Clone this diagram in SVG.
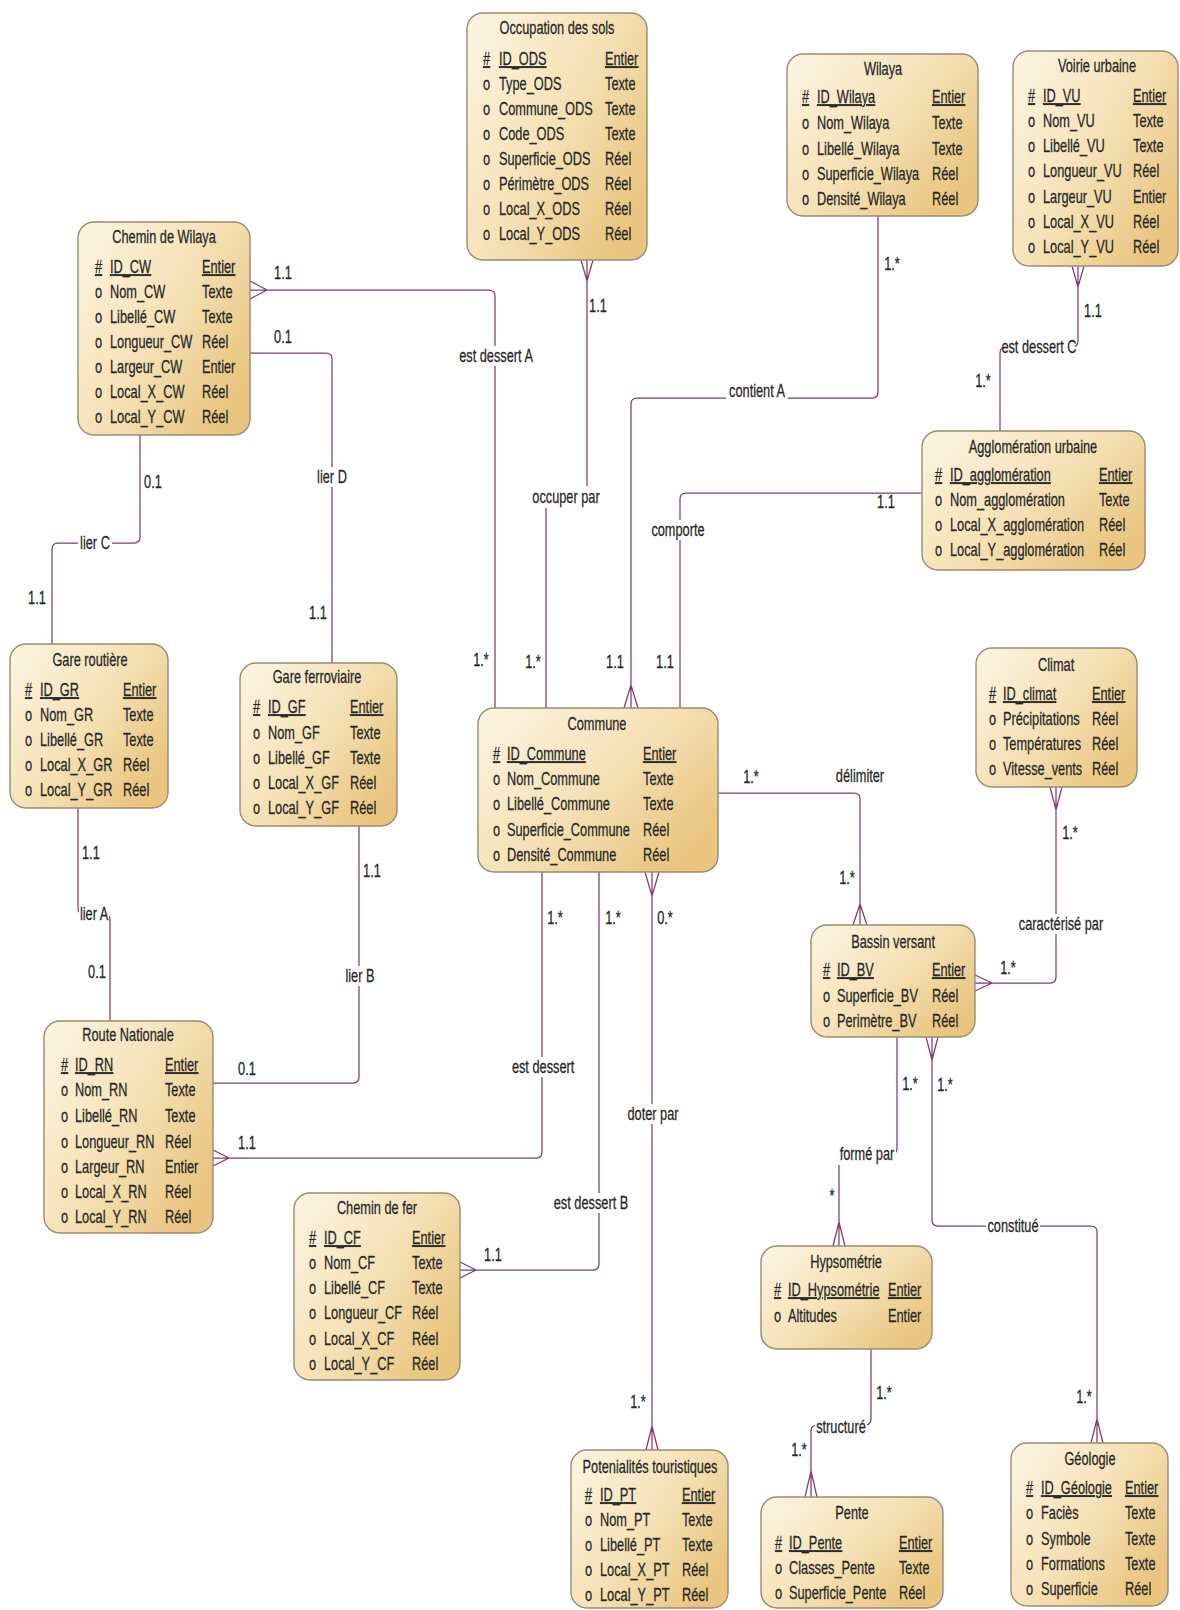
<svg xmlns="http://www.w3.org/2000/svg" width="1180" height="1610" viewBox="0 0 1180 1610">
<defs>
<linearGradient id="g" x1="0" y1="0" x2="1" y2="0.7">
<stop offset="0" stop-color="#fcf5e3"/>
<stop offset="0.55" stop-color="#f5e1b6"/>
<stop offset="1" stop-color="#e9c57f"/>
</linearGradient>
<style>
.box{fill:url(#g);stroke:#9a8c70;stroke-width:1.4}
.t{font-family:"Liberation Sans",Arial,sans-serif;font-size:18px;fill:#262626;stroke:#262626;stroke-width:0.25;transform-box:fill-box;transform-origin:0 50%;transform:scaleX(.71)}
.c{text-anchor:middle;transform-origin:50% 50%}
.u{text-decoration:underline}
.ln{fill:none;stroke:#843a6f;stroke-width:1.25}
.bg{fill:#ffffff}
</style>
</defs>
<rect width="1180" height="1610" fill="#ffffff"/>

<g id="connectors">
<!-- est dessert A -->
<path class="ln" d="M250,290 H489 Q495,290 495,296 V708 M250,281 L267,290 L250,299"/>
<!-- lier D -->
<path class="ln" d="M250,353 H326 Q332,353 332,359 V663"/>
<!-- lier C -->
<path class="ln" d="M140,435 V537 Q140,543 134,543 H58 Q52,543 52,549 V644"/>
<!-- lier A -->
<path class="ln" d="M78,808 V908 Q78,914 84,914 H104 Q110,914 110,920 V1021"/>
<!-- lier B -->
<path class="ln" d="M359,826 V1077 Q359,1083 353,1083 H213"/>
<!-- est dessert -->
<path class="ln" d="M213,1158 H536 Q542,1158 542,1152 V872 M213,1150 L229,1158 L213,1166"/>
<!-- est dessert B -->
<path class="ln" d="M599,872 V1264 Q599,1270 593,1270 H460 M460,1262 L476,1270 L460,1278"/>
<!-- doter par -->
<path class="ln" d="M652,872 V1450 M645,872 L652,896 L659,872 M646,1450 L652,1426 L658,1450"/>
<!-- occuper par -->
<path class="ln" d="M587,260 V491 Q587,497 581,497 H552 Q546,497 546,503 V708 M581,260 L587,281 L593,260"/>
<!-- contient A -->
<path class="ln" d="M878,216 V392 Q878,398 872,398 H637 Q631,398 631,404 V708 M624,708 L631,685 L638,708"/>
<!-- est dessert C -->
<path class="ln" d="M1078,266 V341 Q1078,347 1072,347 H1006 Q1000,347 1000,353 V431 M1072,266 L1078,287 L1084,266"/>
<!-- comporte -->
<path class="ln" d="M922,493 H686 Q680,493 680,499 V708"/>
<!-- délimiter -->
<path class="ln" d="M718,793 H854 Q860,793 860,799 V925 M853,925 L860,904 L867,925"/>
<!-- caractérisé par -->
<path class="ln" d="M1056,787 V977 Q1056,983 1050,983 H975 M1050,787 L1056,810 L1062,787 M975,975 L992,983 L975,991"/>
<!-- formé par -->
<path class="ln" d="M897,1037 V1148 Q897,1154 891,1154 H845 Q839,1154 839,1160 V1246 M833,1246 L839,1222 L845,1246"/>
<!-- constitué -->
<path class="ln" d="M932,1037 V1220 Q932,1226 938,1226 H1091 Q1097,1226 1097,1232 V1443 M926,1037 L932,1060 L938,1037 M1091,1443 L1097,1419 L1103,1443"/>
<!-- structuré -->
<path class="ln" d="M871,1349 V1419 Q871,1425 865,1425 H817 Q811,1425 811,1431 V1497 M805,1497 L811,1471 L817,1497"/>

<!-- label backgrounds -->
<rect class="bg" x="457" y="346" width="78" height="20"/>
<rect class="bg" x="315" y="467" width="34" height="20"/>
<rect class="bg" x="78" y="533" width="34" height="20"/>
<rect class="bg" x="79" y="904" width="30" height="20"/>
<rect class="bg" x="343" y="966" width="34" height="20"/>
<rect class="bg" x="510" y="1057" width="66" height="20"/>
<rect class="bg" x="552" y="1193" width="78" height="20"/>
<rect class="bg" x="626" y="1104" width="54" height="20"/>
<rect class="bg" x="531" y="486" width="70" height="22"/>
<rect class="bg" x="726" y="381" width="62" height="20"/>
<rect class="bg" x="1003" y="337" width="72" height="20"/>
<rect class="bg" x="650" y="520" width="56" height="20"/>
<rect class="bg" x="1017" y="914" width="88" height="20"/>
<rect class="bg" x="838" y="1143" width="58" height="22"/>
<rect class="bg" x="986" y="1216" width="54" height="20"/>
<rect class="bg" x="815" y="1417" width="52" height="20"/>

<!-- association labels -->
<text class="t c" x="496" y="362">est dessert A</text>
<text class="t c" x="332" y="483">lier D</text>
<text class="t c" x="95" y="549">lier C</text>
<text class="t c" x="94" y="920">lier A</text>
<text class="t c" x="360" y="982">lier B</text>
<text class="t c" x="543" y="1073">est dessert</text>
<text class="t c" x="591" y="1209">est dessert B</text>
<text class="t c" x="653" y="1120">doter par</text>
<text class="t c" x="566" y="503">occuper par</text>
<text class="t c" x="757" y="397">contient A</text>
<text class="t c" x="1039" y="353">est dessert C</text>
<text class="t c" x="678" y="536">comporte</text>
<text class="t c" x="860" y="782">délimiter</text>
<text class="t c" x="1061" y="930">caractérisé par</text>
<text class="t c" x="867" y="1160">formé par</text>
<text class="t c" x="1013" y="1232">constitué</text>
<text class="t c" x="841" y="1433">structuré</text>

<!-- cardinalities -->
<text class="t c" x="283" y="279">1.1</text>
<text class="t c" x="481" y="666">1.*</text>
<text class="t c" x="283" y="343">0.1</text>
<text class="t c" x="318" y="619">1.1</text>
<text class="t c" x="153" y="488">0.1</text>
<text class="t c" x="37" y="604">1.1</text>
<text class="t c" x="91" y="859">1.1</text>
<text class="t c" x="97" y="978">0.1</text>
<text class="t c" x="372" y="877">1.1</text>
<text class="t c" x="247" y="1075">0.1</text>
<text class="t c" x="247" y="1149">1.1</text>
<text class="t c" x="555" y="924">1.*</text>
<text class="t c" x="613" y="924">1.*</text>
<text class="t c" x="493" y="1261">1.1</text>
<text class="t c" x="665" y="924">0.*</text>
<text class="t c" x="638" y="1408">1.*</text>
<text class="t c" x="598" y="312">1.1</text>
<text class="t c" x="533" y="668">1.*</text>
<text class="t c" x="892" y="270">1.*</text>
<text class="t c" x="615" y="668">1.1</text>
<text class="t c" x="1093" y="317">1.1</text>
<text class="t c" x="983" y="387">1.*</text>
<text class="t c" x="886" y="508">1.1</text>
<text class="t c" x="665" y="668">1.1</text>
<text class="t c" x="751" y="783">1.*</text>
<text class="t c" x="847" y="884">1.*</text>
<text class="t c" x="1070" y="839">1.*</text>
<text class="t c" x="1008" y="974">1.*</text>
<text class="t c" x="910" y="1090">1.*</text>
<text class="t c" x="832" y="1202">*</text>
<text class="t c" x="945" y="1091">1.*</text>
<text class="t c" x="1084" y="1403">1.*</text>
<text class="t c" x="884" y="1399">1.*</text>
<text class="t c" x="799" y="1456">1.*</text>
</g>

<g id="occupation-des-sols">
<rect class="box" x="467" y="13" width="180" height="247" rx="16"/>
<text class="t c" x="557" y="34">Occupation des sols</text>
<text class="t u" x="483" y="65">#</text><text class="t u" x="499" y="65">ID_ODS</text><text class="t u" x="605" y="65">Entier</text>
<text class="t" x="483" y="90">o</text><text class="t" x="499" y="90">Type_ODS</text><text class="t" x="605" y="90">Texte</text>
<text class="t" x="483" y="115">o</text><text class="t" x="499" y="115">Commune_ODS</text><text class="t" x="605" y="115">Texte</text>
<text class="t" x="483" y="140">o</text><text class="t" x="499" y="140">Code_ODS</text><text class="t" x="605" y="140">Texte</text>
<text class="t" x="483" y="165">o</text><text class="t" x="499" y="165">Superficie_ODS</text><text class="t" x="605" y="165">Réel</text>
<text class="t" x="483" y="190">o</text><text class="t" x="499" y="190">Périmètre_ODS</text><text class="t" x="605" y="190">Réel</text>
<text class="t" x="483" y="215">o</text><text class="t" x="499" y="215">Local_X_ODS</text><text class="t" x="605" y="215">Réel</text>
<text class="t" x="483" y="240">o</text><text class="t" x="499" y="240">Local_Y_ODS</text><text class="t" x="605" y="240">Réel</text>
</g>

<g id="chemin-de-wilaya">
<rect class="box" x="78" y="222" width="172" height="213" rx="16"/>
<text class="t c" x="164" y="243">Chemin de Wilaya</text>
<text class="t u" x="95" y="273">#</text><text class="t u" x="110" y="273">ID_CW</text><text class="t u" x="202" y="273">Entier</text>
<text class="t" x="95" y="298">o</text><text class="t" x="110" y="298">Nom_CW</text><text class="t" x="202" y="298">Texte</text>
<text class="t" x="95" y="323">o</text><text class="t" x="110" y="323">Libellé_CW</text><text class="t" x="202" y="323">Texte</text>
<text class="t" x="95" y="348">o</text><text class="t" x="110" y="348">Longueur_CW</text><text class="t" x="202" y="348">Réel</text>
<text class="t" x="95" y="373">o</text><text class="t" x="110" y="373">Largeur_CW</text><text class="t" x="202" y="373">Entier</text>
<text class="t" x="95" y="398">o</text><text class="t" x="110" y="398">Local_X_CW</text><text class="t" x="202" y="398">Réel</text>
<text class="t" x="95" y="423">o</text><text class="t" x="110" y="423">Local_Y_CW</text><text class="t" x="202" y="423">Réel</text>
</g>

<g id="wilaya">
<rect class="box" x="787" y="54" width="191" height="162" rx="16"/>
<text class="t c" x="883" y="75">Wilaya</text>
<text class="t u" x="802" y="103">#</text><text class="t u" x="817" y="103">ID_Wilaya</text><text class="t u" x="932" y="103">Entier</text>
<text class="t" x="802" y="129">o</text><text class="t" x="817" y="129">Nom_Wilaya</text><text class="t" x="932" y="129">Texte</text>
<text class="t" x="802" y="155">o</text><text class="t" x="817" y="155">Libellé_Wilaya</text><text class="t" x="932" y="155">Texte</text>
<text class="t" x="802" y="180">o</text><text class="t" x="817" y="180">Superficie_Wilaya</text><text class="t" x="932" y="180">Réel</text>
<text class="t" x="802" y="205">o</text><text class="t" x="817" y="205">Densité_Wilaya</text><text class="t" x="932" y="205">Réel</text>
</g>

<g id="voirie-urbaine">
<rect class="box" x="1013" y="51" width="165" height="215" rx="16"/>
<text class="t c" x="1097" y="72">Voirie urbaine</text>
<text class="t u" x="1028" y="102">#</text><text class="t u" x="1043" y="102">ID_VU</text><text class="t u" x="1133" y="102">Entier</text>
<text class="t" x="1028" y="127">o</text><text class="t" x="1043" y="127">Nom_VU</text><text class="t" x="1133" y="127">Texte</text>
<text class="t" x="1028" y="152">o</text><text class="t" x="1043" y="152">Libellé_VU</text><text class="t" x="1133" y="152">Texte</text>
<text class="t" x="1028" y="177">o</text><text class="t" x="1043" y="177">Longueur_VU</text><text class="t" x="1133" y="177">Réel</text>
<text class="t" x="1028" y="203">o</text><text class="t" x="1043" y="203">Largeur_VU</text><text class="t" x="1133" y="203">Entier</text>
<text class="t" x="1028" y="228">o</text><text class="t" x="1043" y="228">Local_X_VU</text><text class="t" x="1133" y="228">Réel</text>
<text class="t" x="1028" y="253">o</text><text class="t" x="1043" y="253">Local_Y_VU</text><text class="t" x="1133" y="253">Réel</text>
</g>

<g id="agglomeration-urbaine">
<rect class="box" x="922" y="431" width="223" height="139" rx="16"/>
<text class="t c" x="1033" y="453">Agglomération urbaine</text>
<text class="t u" x="935" y="481">#</text><text class="t u" x="950" y="481">ID_agglomération</text><text class="t u" x="1099" y="481">Entier</text>
<text class="t" x="935" y="506">o</text><text class="t" x="950" y="506">Nom_agglomération</text><text class="t" x="1099" y="506">Texte</text>
<text class="t" x="935" y="531">o</text><text class="t" x="950" y="531">Local_X_agglomération</text><text class="t" x="1099" y="531">Réel</text>
<text class="t" x="935" y="556">o</text><text class="t" x="950" y="556">Local_Y_agglomération</text><text class="t" x="1099" y="556">Réel</text>
</g>

<g id="commune">
<rect class="box" x="478" y="708" width="240" height="164" rx="16"/>
<text class="t c" x="597" y="730">Commune</text>
<text class="t u" x="493" y="760">#</text><text class="t u" x="507" y="760">ID_Commune</text><text class="t u" x="643" y="760">Entier</text>
<text class="t" x="493" y="785">o</text><text class="t" x="507" y="785">Nom_Commune</text><text class="t" x="643" y="785">Texte</text>
<text class="t" x="493" y="810">o</text><text class="t" x="507" y="810">Libellé_Commune</text><text class="t" x="643" y="810">Texte</text>
<text class="t" x="493" y="836">o</text><text class="t" x="507" y="836">Superficie_Commune</text><text class="t" x="643" y="836">Réel</text>
<text class="t" x="493" y="861">o</text><text class="t" x="507" y="861">Densité_Commune</text><text class="t" x="643" y="861">Réel</text>
</g>

<g id="gare-routiere">
<rect class="box" x="10" y="644" width="158" height="164" rx="16"/>
<text class="t c" x="90" y="666">Gare routière</text>
<text class="t u" x="25" y="696">#</text><text class="t u" x="40" y="696">ID_GR</text><text class="t u" x="123" y="696">Entier</text>
<text class="t" x="25" y="721">o</text><text class="t" x="40" y="721">Nom_GR</text><text class="t" x="123" y="721">Texte</text>
<text class="t" x="25" y="746">o</text><text class="t" x="40" y="746">Libellé_GR</text><text class="t" x="123" y="746">Texte</text>
<text class="t" x="25" y="771">o</text><text class="t" x="40" y="771">Local_X_GR</text><text class="t" x="123" y="771">Réel</text>
<text class="t" x="25" y="796">o</text><text class="t" x="40" y="796">Local_Y_GR</text><text class="t" x="123" y="796">Réel</text>
</g>

<g id="gare-ferroviaire">
<rect class="box" x="240" y="663" width="157" height="163" rx="16"/>
<text class="t c" x="317" y="683">Gare ferroviaire</text>
<text class="t u" x="253" y="713">#</text><text class="t u" x="268" y="713">ID_GF</text><text class="t u" x="350" y="713">Entier</text>
<text class="t" x="253" y="739">o</text><text class="t" x="268" y="739">Nom_GF</text><text class="t" x="350" y="739">Texte</text>
<text class="t" x="253" y="764">o</text><text class="t" x="268" y="764">Libellé_GF</text><text class="t" x="350" y="764">Texte</text>
<text class="t" x="253" y="789">o</text><text class="t" x="268" y="789">Local_X_GF</text><text class="t" x="350" y="789">Réel</text>
<text class="t" x="253" y="814">o</text><text class="t" x="268" y="814">Local_Y_GF</text><text class="t" x="350" y="814">Réel</text>
</g>

<g id="route-nationale">
<rect class="box" x="44" y="1021" width="169" height="212" rx="16"/>
<text class="t c" x="128" y="1041">Route Nationale</text>
<text class="t u" x="61" y="1071">#</text><text class="t u" x="75" y="1071">ID_RN</text><text class="t u" x="165" y="1071">Entier</text>
<text class="t" x="61" y="1096">o</text><text class="t" x="75" y="1096">Nom_RN</text><text class="t" x="165" y="1096">Texte</text>
<text class="t" x="61" y="1122">o</text><text class="t" x="75" y="1122">Libellé_RN</text><text class="t" x="165" y="1122">Texte</text>
<text class="t" x="61" y="1148">o</text><text class="t" x="75" y="1148">Longueur_RN</text><text class="t" x="165" y="1148">Réel</text>
<text class="t" x="61" y="1173">o</text><text class="t" x="75" y="1173">Largeur_RN</text><text class="t" x="165" y="1173">Entier</text>
<text class="t" x="61" y="1198">o</text><text class="t" x="75" y="1198">Local_X_RN</text><text class="t" x="165" y="1198">Réel</text>
<text class="t" x="61" y="1223">o</text><text class="t" x="75" y="1223">Local_Y_RN</text><text class="t" x="165" y="1223">Réel</text>
</g>

<g id="chemin-de-fer">
<rect class="box" x="294" y="1193" width="166" height="187" rx="16"/>
<text class="t c" x="377" y="1214">Chemin de fer</text>
<text class="t u" x="309" y="1244">#</text><text class="t u" x="324" y="1244">ID_CF</text><text class="t u" x="412" y="1244">Entier</text>
<text class="t" x="309" y="1269">o</text><text class="t" x="324" y="1269">Nom_CF</text><text class="t" x="412" y="1269">Texte</text>
<text class="t" x="309" y="1294">o</text><text class="t" x="324" y="1294">Libellé_CF</text><text class="t" x="412" y="1294">Texte</text>
<text class="t" x="309" y="1319">o</text><text class="t" x="324" y="1319">Longueur_CF</text><text class="t" x="412" y="1319">Réel</text>
<text class="t" x="309" y="1345">o</text><text class="t" x="324" y="1345">Local_X_CF</text><text class="t" x="412" y="1345">Réel</text>
<text class="t" x="309" y="1370">o</text><text class="t" x="324" y="1370">Local_Y_CF</text><text class="t" x="412" y="1370">Réel</text>
</g>

<g id="climat">
<rect class="box" x="976" y="648" width="161" height="139" rx="16"/>
<text class="t c" x="1056" y="671">Climat</text>
<text class="t u" x="989" y="700">#</text><text class="t u" x="1003" y="700">ID_climat</text><text class="t u" x="1092" y="700">Entier</text>
<text class="t" x="989" y="725">o</text><text class="t" x="1003" y="725">Précipitations</text><text class="t" x="1092" y="725">Réel</text>
<text class="t" x="989" y="750">o</text><text class="t" x="1003" y="750">Températures</text><text class="t" x="1092" y="750">Réel</text>
<text class="t" x="989" y="775">o</text><text class="t" x="1003" y="775">Vitesse_vents</text><text class="t" x="1092" y="775">Réel</text>
</g>

<g id="bassin-versant">
<rect class="box" x="811" y="925" width="164" height="112" rx="16"/>
<text class="t c" x="893" y="948">Bassin versant</text>
<text class="t u" x="823" y="976">#</text><text class="t u" x="837" y="976">ID_BV</text><text class="t u" x="932" y="976">Entier</text>
<text class="t" x="823" y="1002">o</text><text class="t" x="837" y="1002">Superficie_BV</text><text class="t" x="932" y="1002">Réel</text>
<text class="t" x="823" y="1027">o</text><text class="t" x="837" y="1027">Perimètre_BV</text><text class="t" x="932" y="1027">Réel</text>
</g>

<g id="hypsometrie">
<rect class="box" x="761" y="1246" width="171" height="103" rx="16"/>
<text class="t c" x="846" y="1268">Hypsométrie</text>
<text class="t u" x="774" y="1296">#</text><text class="t u" x="788" y="1296">ID_Hypsométrie</text><text class="t u" x="888" y="1296">Entier</text>
<text class="t" x="774" y="1322">o</text><text class="t" x="788" y="1322">Altitudes</text><text class="t" x="888" y="1322">Entier</text>
</g>

<g id="potentialites-touristiques">
<rect class="box" x="571" y="1450" width="157" height="158" rx="16"/>
<text class="t c" x="650" y="1473">Potenialités touristiques</text>
<text class="t u" x="585" y="1501">#</text><text class="t u" x="600" y="1501">ID_PT</text><text class="t u" x="682" y="1501">Entier</text>
<text class="t" x="585" y="1526">o</text><text class="t" x="600" y="1526">Nom_PT</text><text class="t" x="682" y="1526">Texte</text>
<text class="t" x="585" y="1551">o</text><text class="t" x="600" y="1551">Libellé_PT</text><text class="t" x="682" y="1551">Texte</text>
<text class="t" x="585" y="1576">o</text><text class="t" x="600" y="1576">Local_X_PT</text><text class="t" x="682" y="1576">Réel</text>
<text class="t" x="585" y="1601">o</text><text class="t" x="600" y="1601">Local_Y_PT</text><text class="t" x="682" y="1601">Réel</text>
</g>

<g id="pente">
<rect class="box" x="761" y="1497" width="182" height="111" rx="16"/>
<text class="t c" x="852" y="1519">Pente</text>
<text class="t u" x="775" y="1549">#</text><text class="t u" x="789" y="1549">ID_Pente</text><text class="t u" x="899" y="1549">Entier</text>
<text class="t" x="775" y="1574">o</text><text class="t" x="789" y="1574">Classes_Pente</text><text class="t" x="899" y="1574">Texte</text>
<text class="t" x="775" y="1599">o</text><text class="t" x="789" y="1599">Superficie_Pente</text><text class="t" x="899" y="1599">Réel</text>
</g>

<g id="geologie">
<rect class="box" x="1011" y="1443" width="157" height="163" rx="16"/>
<text class="t c" x="1090" y="1465">Géologie</text>
<text class="t u" x="1026" y="1494">#</text><text class="t u" x="1041" y="1494">ID_Géologie</text><text class="t u" x="1125" y="1494">Entier</text>
<text class="t" x="1026" y="1519">o</text><text class="t" x="1041" y="1519">Faciès</text><text class="t" x="1125" y="1519">Texte</text>
<text class="t" x="1026" y="1545">o</text><text class="t" x="1041" y="1545">Symbole</text><text class="t" x="1125" y="1545">Texte</text>
<text class="t" x="1026" y="1570">o</text><text class="t" x="1041" y="1570">Formations</text><text class="t" x="1125" y="1570">Texte</text>
<text class="t" x="1026" y="1595">o</text><text class="t" x="1041" y="1595">Superficie</text><text class="t" x="1125" y="1595">Réel</text>
</g>
</svg>
